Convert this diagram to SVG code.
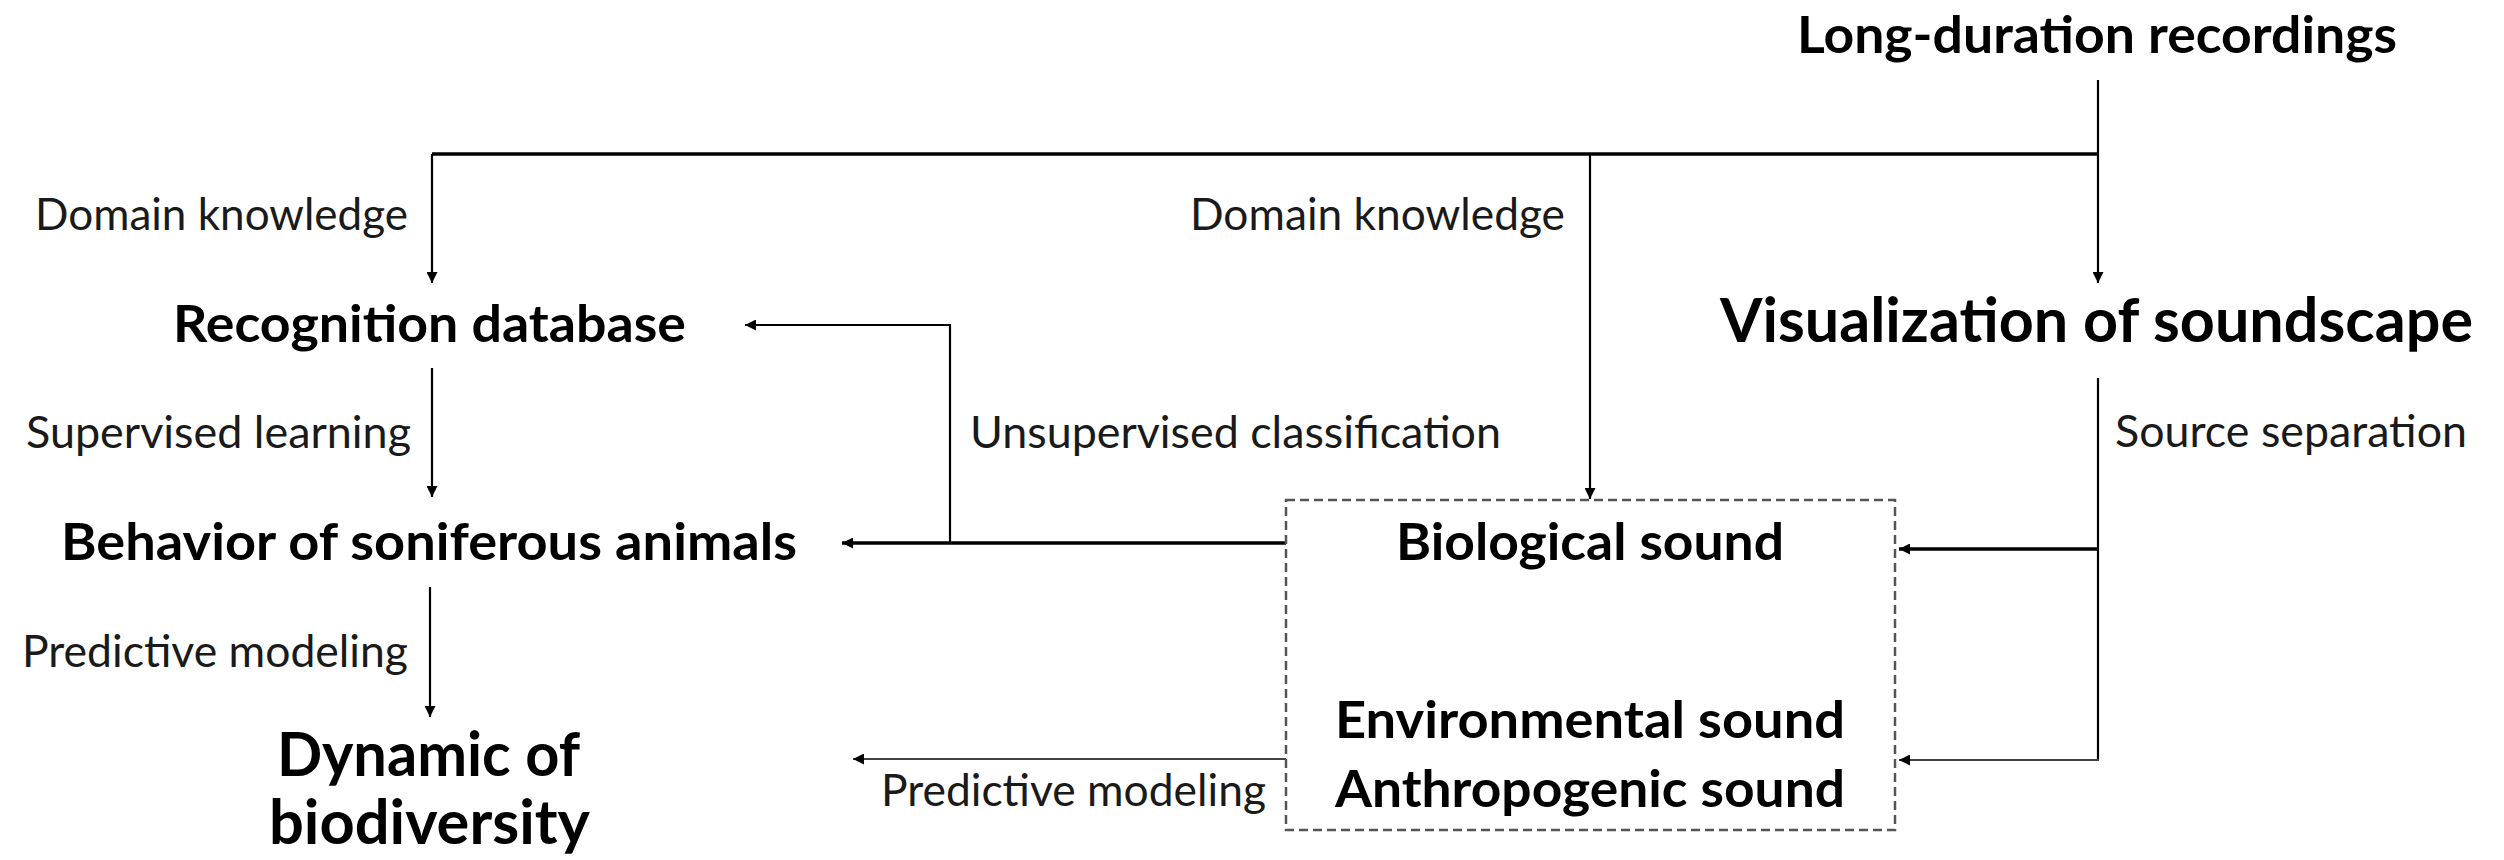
<svg xmlns="http://www.w3.org/2000/svg" width="2504" height="860" viewBox="0 0 2504 860">
<defs>
<style>
.lbl{font-family:Lato,"Liberation Sans",sans-serif;font-size:44px;fill:#1a1a1a}
.node{font-family:Lato,"Liberation Sans",sans-serif;font-size:52px;font-weight:bold;fill:#000}
.big{font-family:Lato,"Liberation Sans",sans-serif;font-size:62px;font-weight:bold;fill:#000}
.c{fill:none;stroke:#000;stroke-width:2.2}
.thick{stroke-width:3.6}
.gray{stroke:#444}
</style>
<marker id="ah" viewBox="0 0 10 10" refX="10" refY="5" markerWidth="14" markerHeight="11" markerUnits="userSpaceOnUse" orient="auto">
<path d="M0,0 L10,5 L0,10 z" fill="#000"/>
</marker>
</defs>
<rect width="2504" height="860" fill="#fff"/>
<g id="connectors">
<line class="c thick" x1="432" y1="154" x2="2099" y2="154"/>
<line class="c" x1="2098" y1="80" x2="2098" y2="283" marker-end="url(#ah)"/>
<line class="c" x1="432" y1="154" x2="432" y2="283" marker-end="url(#ah)"/>
<line class="c" x1="1590" y1="154" x2="1590" y2="499" marker-end="url(#ah)"/>
<line class="c" x1="432" y1="368" x2="432" y2="497" marker-end="url(#ah)"/>
<line class="c" x1="430" y1="587" x2="430" y2="717" marker-end="url(#ah)"/>
<line class="c thick" x1="1286" y1="543" x2="842" y2="543" marker-end="url(#ah)"/>
<polyline class="c" points="950,543 950,325 745,325" marker-end="url(#ah)"/>
<line class="c gray" x1="1286" y1="759" x2="853" y2="759" marker-end="url(#ah)"/>
<line class="c" x1="2098" y1="378" x2="2098" y2="760"/>
<line class="c thick" x1="2098" y1="549" x2="1899" y2="549" marker-end="url(#ah)"/>
<line class="c gray" x1="2099" y1="760" x2="1899" y2="760" marker-end="url(#ah)"/>
</g>
<g id="n-long"><text class="node" x="1797" y="53" textLength="600" lengthAdjust="spacingAndGlyphs">Long-duration recordings</text></g>
<g id="l-domain1"><text class="lbl" x="35" y="230" textLength="373" lengthAdjust="spacingAndGlyphs">Domain knowledge</text></g>
<g id="l-domain2"><text class="lbl" x="1190" y="230" textLength="375" lengthAdjust="spacingAndGlyphs">Domain knowledge</text></g>
<g id="n-recog"><text class="node" x="173" y="342" textLength="513" lengthAdjust="spacingAndGlyphs">Recognition database</text></g>
<g id="n-visual"><text class="big" x="1720" y="342" textLength="753" lengthAdjust="spacingAndGlyphs">Visualization of soundscape</text></g>
<g id="l-sup"><text class="lbl" x="26" y="448" textLength="385" lengthAdjust="spacingAndGlyphs">Supervised learning</text></g>
<g id="l-unsup"><text class="lbl" x="970" y="448" textLength="531" lengthAdjust="spacingAndGlyphs">Unsupervised classification</text></g>
<g id="l-source"><text class="lbl" x="2115" y="447" textLength="352" lengthAdjust="spacingAndGlyphs">Source separation</text></g>
<g id="n-behavior"><text class="node" x="61" y="560" textLength="736" lengthAdjust="spacingAndGlyphs">Behavior of soniferous animals</text></g>
<g id="l-pred1"><text class="lbl" x="22" y="667" textLength="386" lengthAdjust="spacingAndGlyphs">Predictive modeling</text></g>
<g id="n-dynamic">
<text class="big" x="277" y="776" textLength="303" lengthAdjust="spacingAndGlyphs">Dynamic of</text>
<text class="big" x="269" y="844" textLength="321" lengthAdjust="spacingAndGlyphs">biodiversity</text>
</g>
<g id="l-pred2"><text class="lbl" x="881" y="806" textLength="385" lengthAdjust="spacingAndGlyphs">Predictive modeling</text></g>
<g id="n-sounds">
<rect x="1286" y="500" width="609" height="330" fill="none" stroke="#555" stroke-width="2.5" stroke-dasharray="9 5"/>
<text class="node" x="1396" y="560" textLength="388" lengthAdjust="spacingAndGlyphs">Biological sound</text>
<text class="node" x="1335" y="738" textLength="510" lengthAdjust="spacingAndGlyphs">Environmental sound</text>
<text class="node" x="1335" y="807" textLength="510" lengthAdjust="spacingAndGlyphs">Anthropogenic sound</text>
</g>
</svg>
